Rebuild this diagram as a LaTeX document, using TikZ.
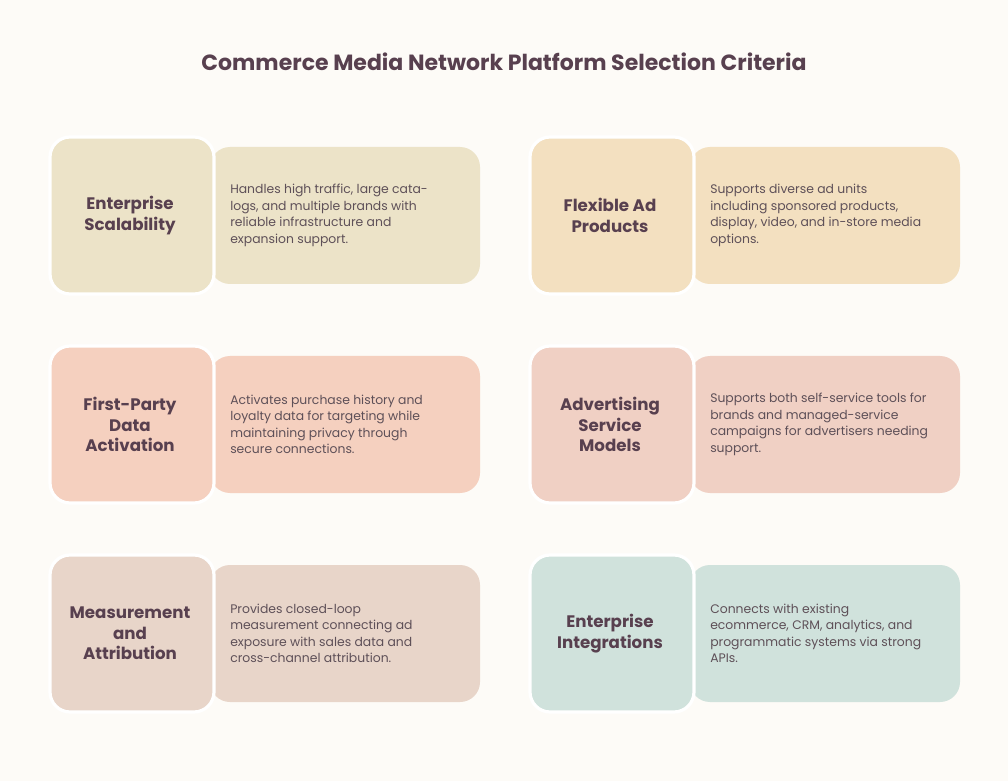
\documentclass[tikz,border=0pt]{standalone}
\usepackage{fontspec}
\setmainfont{Poppins}
\begin{document}
\begin{tikzpicture}[x=0.75pt,y=-0.75pt,
  head/.style={font=\fontsize{12.5}{15.5}\selectfont\bfseries,text=hd,align=center},
  body/.style={font=\fontsize{9.3}{12.4}\selectfont,text=bd,align=left,anchor=west,inner sep=0pt},
  lbox/.style={rounded corners=15pt,draw=white,line width=2.4pt},
  rbox/.style={rounded corners=15pt}]
\definecolor{bg}{HTML}{FDFBF7}
\definecolor{hd}{HTML}{58404F}
\definecolor{bd}{HTML}{5E5058}
\definecolor{ca}{HTML}{ECE3C8}
\definecolor{cb}{HTML}{F3E0C0}
\definecolor{cc}{HTML}{F5D0BF}
\definecolor{cd}{HTML}{F0D0C4}
\definecolor{ce}{HTML}{E8D5C9}
\definecolor{cf}{HTML}{D0E2DC}
\fill[bg] (0,0) rectangle (1008,781);
\useasboundingbox (0,0) rectangle (1008,781);
\node[font=\fontsize{16.5}{20}\selectfont\bfseries,text=hd] (title) at (504,62) {Commerce Media Network Platform Selection Criteria};
\newcommand\card[6]{%
  \fill[#3,rbox] (#1+160,#2+10) rectangle (#1+430,#2+147);
  \filldraw[fill=#3,lbox] (#1,#2) rectangle (#1+164,#2+157);
  \node[head] (#6h) at (#1+80,#2+78.5) {#4};
  \node[body] (#6b) at (#1+180,#2+78.5) {#5};}
\card{50}{137}{ca}{Enterprise\\Scalability}{Handles high traffic, large cata-\\logs, and multiple brands with\\reliable infrastructure and\\expansion support.}{a}
\card{530}{137}{cb}{Flexible Ad\\Products}{Supports diverse ad units\\including sponsored products,\\display, video, and in-store media\\options.}{b}
\card{50}{346}{cc}{First-Party\\Data\\Activation}{Activates purchase history and\\loyalty data for targeting while\\maintaining privacy through\\secure connections.}{c}
\card{530}{346}{cd}{Advertising\\Service\\Models}{Supports both self-service tools for\\brands and managed-service\\campaigns for advertisers needing\\support.}{d}
\card{50}{555}{ce}{Measurement\\and\\Attribution}{Provides closed-loop\\measurement connecting ad\\exposure with sales data and\\cross-channel attribution.}{e}
\card{530}{555}{cf}{Enterprise\\Integrations}{Connects with existing\\ecommerce, CRM, analytics, and\\programmatic systems via strong\\APIs.}{f}
\end{tikzpicture}
\end{document}
